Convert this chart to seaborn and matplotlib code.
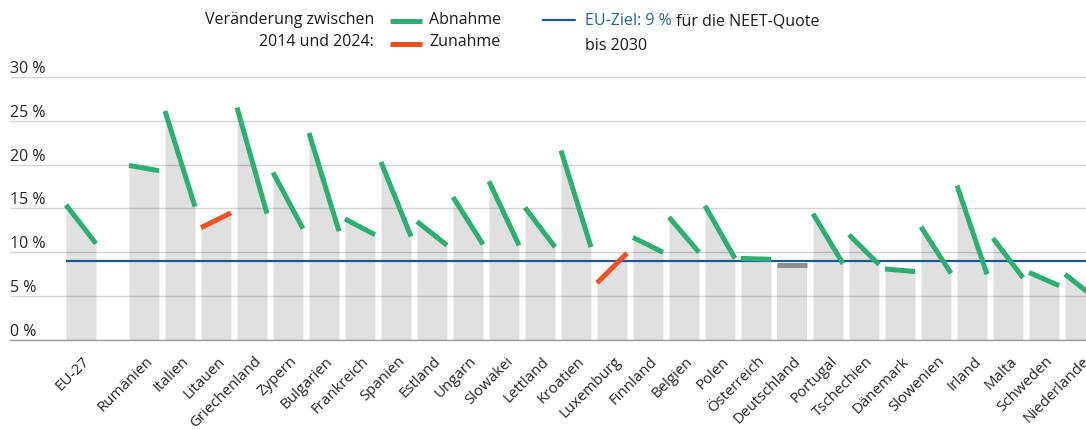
import pandas as pd
import seaborn as sns
import matplotlib.pyplot as plt
from matplotlib.lines import Line2D
import matplotlib.transforms as mtransforms

# NEET-Quote (%) je Land, 2014 und 2024
countries = ['EU-27', 'Rumänien', 'Italien', 'Litauen', 'Griechenland', 'Zypern', 'Bulgarien',
             'Frankreich', 'Spanien', 'Estland', 'Ungarn', 'Slowakei', 'Lettland', 'Kroatien',
             'Luxemburg', 'Finnland', 'Belgien', 'Polen', 'Österreich', 'Deutschland', 'Portugal',
             'Tschechien', 'Dänemark', 'Slowenien', 'Irland', 'Malta', 'Schweden', 'Niederlande']
neet_2014 = [15.4, 19.9, 26.1, 12.8, 26.5, 19.1, 23.6, 13.8, 20.3, 13.5, 16.3, 18.1, 15.1, 21.6,
             6.5, 11.7, 14.0, 15.3, 9.3, 8.6, 14.4, 12.0, 8.1, 12.9, 17.6, 11.6, 7.7, 7.5]
neet_2024 = [11.0, 19.3, 15.2, 14.5, 14.4, 12.7, 12.4, 12.0, 11.8, 10.8, 10.9, 10.8, 10.6, 10.6,
             9.9, 10.0, 10.0, 9.3, 9.2, 8.6, 8.7, 8.6, 7.8, 7.6, 7.5, 7.1, 6.2, 4.8]
yticks = [0, 5, 10, 15, 20, 25, 30]
ytick_labels = ['0 %', '5 %', '10 %', '15 %', '20 %', '25 %', '30 %']
eu_target = 9

GREEN = '#2bb06f'
RED = '#ef5125'
GREY_LINE = '#8c8c8c'
BLUE = '#1d5690'
BAR = '#e0e0e0'

sns.set_style('white')
plt.rcParams['font.family'] = ['Open Sans', 'DejaVu Sans']
plt.rcParams['font.size'] = 11.5
plt.rcParams['text.color'] = '#1a1a1a'

# EU-27 steht etwas abseits, danach die Länder im gleichen Abstand
pos = [0] + [1.75 + i for i in range(len(countries) - 1)]
half = 0.4167

rows = []
for land, x, a, b in zip(countries, pos, neet_2014, neet_2024):
    d = b - a
    trend = 'gleich' if abs(d) < 0.05 else ('Abnahme' if d < 0 else 'Zunahme')
    rows.append({'land': land, 'x': x - half, 'wert': a, 'trend': trend})
    rows.append({'land': land, 'x': x + half, 'wert': b, 'trend': trend})
df = pd.DataFrame(rows)

W, H = 1086, 430
fig = plt.figure(figsize=(W / 100, H / 100), dpi=100)
ax = fig.add_axes([10 / W, 90 / H, 1 - 10 / W, (340 - 68.1) / H])

# graue Flächen unter den Linien
for land, g in df.groupby('land', sort=False):
    ax.fill_between(g['x'], 0, g['wert'], color=BAR, lw=0, zorder=1)

ax.hlines(eu_target, pos[0] - half, 40, color=BLUE, lw=1.6, zorder=2.5)

pal = {'Abnahme': GREEN, 'Zunahme': RED, 'gleich': GREY_LINE}
sns.lineplot(data=df, x='x', y='wert', units='land', estimator=None, hue='trend',
             palette=pal, sort=False, legend=False, lw=3.6, solid_capstyle='butt',
             zorder=3, ax=ax)

ax.set_xlim(pos[0] - 71 / 36, pos[0] - 71 / 36 + 1076 / 36)
ax.set_ylim(0, 31)
ax.set_xlabel('')
ax.set_ylabel('')

ax.set_axisbelow('line')
ax.set_yticks(yticks)
ax.set_yticklabels(ytick_labels)
ax.grid(axis='y', color='black', alpha=0.17, lw=1)
ax.tick_params(axis='y', length=0, pad=0, labelsize=11.5)
for lab in ax.get_yticklabels():
    lab.set_ha('left')
    lab.set_va('bottom')

ax.set_xticks(pos)
ax.set_xticklabels(countries, rotation=45, ha='right', va='top', rotation_mode='anchor')
ax.tick_params(axis='x', length=9, width=1, color='#555555', pad=2, labelsize=10.8)
shift = mtransforms.ScaledTranslation(1 / 72, 1 / 72, fig.dpi_scale_trans)
for lab in ax.get_xticklabels():
    lab.set_transform(lab.get_transform() + shift)

for s in ['top', 'right', 'left']:
    ax.spines[s].set_visible(False)
ax.spines['bottom'].set_color('#9a9a9a')
ax.spines['bottom'].set_linewidth(1)

# Legende oben
def fx(px):
    return px / W

def fy(py):
    return 1 - py / H

fig.text(fx(374), fy(20.5), 'Veränderung zwischen', ha='right', va='center')
fig.text(fx(374), fy(42), '2014 und 2024:', ha='right', va='center')
fig.add_artist(Line2D([fx(390), fx(422)], [fy(21), fy(21)], color=GREEN, lw=3.6,
                      solid_capstyle='butt', transform=fig.transFigure))
fig.add_artist(Line2D([fx(390), fx(422)], [fy(43.5), fy(43.5)], color=RED, lw=3.6,
                      solid_capstyle='butt', transform=fig.transFigure))
fig.text(fx(429), fy(20.5), 'Abnahme', ha='left', va='center')
fig.text(fx(429), fy(42), 'Zunahme', ha='left', va='center')

fig.add_artist(Line2D([fx(543), fx(575)], [fy(19.5), fy(19.5)], color=BLUE, lw=1.6,
                      transform=fig.transFigure))
t1 = fig.text(fx(585), fy(21), 'EU-Ziel: 9 %', ha='left', va='center', color='#23649f')
ax.annotate(' für die NEET-Quote', xy=(1, 0), xycoords=t1, ha='left', va='bottom',
            annotation_clip=False)
fig.text(fx(585), fy(46), 'bis 2030', ha='left', va='center')

fig.savefig('out.png', dpi=100)
